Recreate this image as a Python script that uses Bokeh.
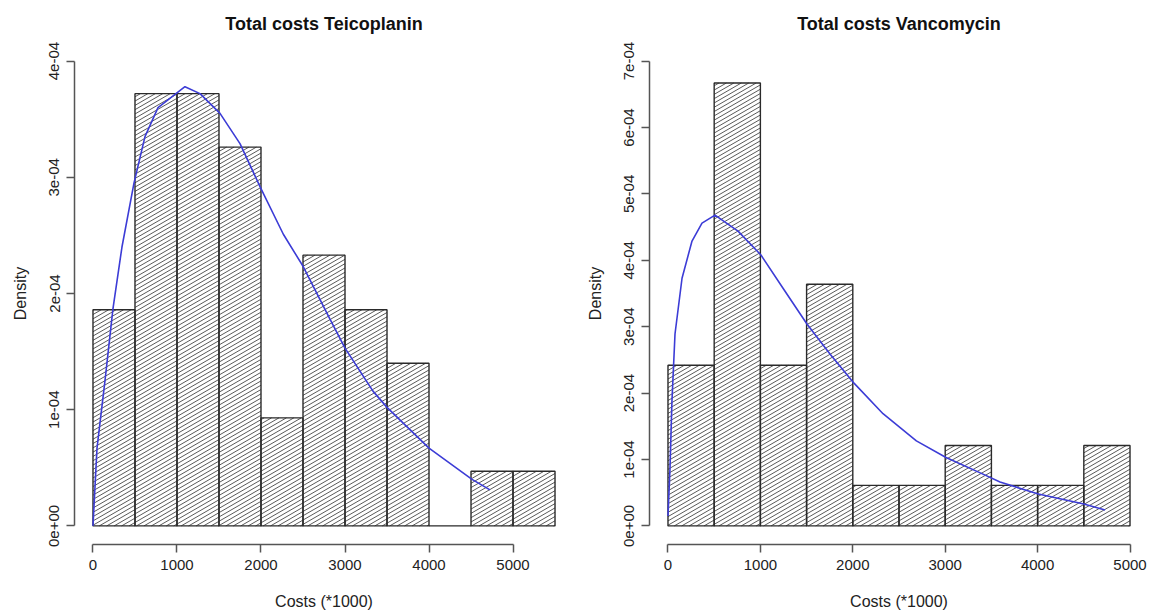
import math
from bokeh.plotting import figure
from bokeh.layouts import row
from bokeh.models import FixedTicker, Range1d, CustomJSTickFormatter, ColumnDataSource
from bokeh.embed import file_html
from bokeh.resources import INLINE

# ---------------- data ----------------
teico_breaks = [0, 500, 1000, 1500, 2000, 2500, 3000, 3500, 4000, 4500, 5000, 5500]
teico_density = [1.86e-4, 3.72e-4, 3.72e-4, 3.26e-4, 0.93e-4, 2.33e-4, 1.86e-4,
                 1.40e-4, 0.0, 0.47e-4, 0.47e-4]
teico_curve_x = [0, 48, 143, 238, 345, 488, 619, 774, 1095, 1274, 1512, 1750, 1988,
                 2266, 2504, 2821, 3000, 3333, 3500, 4000, 4512, 4726]
teico_curve_y = [0.0, 0.67e-4, 1.25e-4, 1.87e-4, 2.40e-4, 2.95e-4, 3.35e-4, 3.60e-4,
                 3.78e-4, 3.72e-4, 3.55e-4, 3.29e-4, 2.92e-4, 2.51e-4, 2.23e-4, 1.78e-4,
                 1.53e-4, 1.16e-4, 1.02e-4, 0.67e-4, 0.40e-4, 0.31e-4]

vanco_breaks = [0, 500, 1000, 1500, 2000, 2500, 3000, 3500, 4000, 4500, 5000]
vanco_density = [2.42e-4, 6.67e-4, 2.42e-4, 3.64e-4, 0.61e-4, 0.61e-4, 1.21e-4,
                 0.61e-4, 0.61e-4, 1.21e-4]
vanco_curve_x = [0, 22, 43, 76, 152, 260, 368, 509, 758, 1006, 1245, 1504, 1753, 2013,
                 2327, 2688, 3009, 3409, 3593, 4008, 4500, 4730]
vanco_curve_y = [0.15e-4, 0.87e-4, 1.88e-4, 2.89e-4, 3.73e-4, 4.29e-4, 4.56e-4, 4.68e-4,
                 4.44e-4, 4.08e-4, 3.58e-4, 3.04e-4, 2.59e-4, 2.15e-4, 1.69e-4, 1.28e-4,
                 1.03e-4, 0.78e-4, 0.66e-4, 0.48e-4, 0.33e-4, 0.24e-4]

x_ticks = [0, 1000, 2000, 3000, 4000, 5000]
x_tick_labels = ["0", "1000", "2000", "3000", "4000", "5000"]
teico_y_ticks = [0, 1e-4, 2e-4, 3e-4, 4e-4]
teico_y_labels = ["0e+00", "1e-04", "2e-04", "3e-04", "4e-04"]
vanco_y_ticks = [0, 1e-4, 2e-4, 3e-4, 4e-4, 5e-4, 6e-4, 7e-4]
vanco_y_labels = ["0e+00", "1e-04", "2e-04", "3e-04", "4e-04", "5e-04", "6e-04", "7e-04"]

titles = ["Total costs Teicoplanin", "Total costs Vancomycin"]
x_label = "Costs (*1000)"
y_label = "Density"

FONT = "Liberation Sans"
FRAME_H = 502
FMT_CODE = """
for (let i = 0; i < tvals.length; i++) {
  if (Math.abs(tick - tvals[i]) < 1e-12) { return tlabels[i]; }
}
return "";
"""

# R-style shading: parallel lines at about 30 degrees on screen
SHADE_ANGLE = 30.0
SHADE_GAP = 4.3  # vertical gap between shading lines, screen pixels


def shading(breaks, dens, xr, yr, fw, fh):
    """Clip a family of slanted lines to each histogram bar (computed in screen space)."""
    sx = fw / (xr[1] - xr[0])
    sy = fh / (yr[1] - yr[0])
    m = math.tan(math.radians(SHADE_ANGLE))
    x0s, y0s, x1s, y1s = [], [], [], []
    for a, b, h in zip(breaks[:-1], breaks[1:], dens):
        if h <= 0:
            continue
        px0, px1 = (a - xr[0]) * sx, (b - xr[0]) * sx
        py0, py1 = (0 - yr[0]) * sy, (h - yr[0]) * sy
        kmin = math.ceil((py0 - m * px1) / SHADE_GAP)
        kmax = math.floor((py1 - m * px0) / SHADE_GAP)
        for k in range(kmin, kmax + 1):
            c = k * SHADE_GAP
            xa = max(px0, (py0 - c) / m)
            xb = min(px1, (py1 - c) / m)
            if xb - xa <= 0.05:
                continue
            x0s.append(xr[0] + xa / sx)
            x1s.append(xr[0] + xb / sx)
            y0s.append(yr[0] + (m * xa + c) / sy)
            y1s.append(yr[0] + (m * xb + c) / sy)
    return dict(x0=x0s, y0=y0s, x1=x1s, y1=y1s)


def panel(title, breaks, dens, cx, cy, xr, yr, yticks, ylabels, fw, left_border, right_border):
    p = figure(frame_width=fw, frame_height=FRAME_H,
               x_range=Range1d(*xr), y_range=Range1d(*yr),
               output_backend="svg", toolbar_location=None,
               min_border_left=left_border, min_border_right=right_border,
               min_border_top=42, min_border_bottom=66, title=title)
    p.outline_line_color = None
    p.grid.visible = False
    p.background_fill_color = "white"
    p.border_fill_color = "white"

    p.title.align = "center"
    p.title.text_font = FONT
    p.title.text_font_size = "18px"
    p.title.text_font_style = "bold"
    p.title.text_color = "#111111"
    p.title.standoff = 17

    src = ColumnDataSource(dict(left=breaks[:-1], right=breaks[1:],
                                top=dens, bottom=[0] * len(dens)))
    p.quad(left="left", right="right", top="top", bottom="bottom", source=src,
           fill_color="white", line_color=None)
    p.segment(x0="x0", y0="y0", x1="x1", y1="y1",
              source=ColumnDataSource(shading(breaks, dens, xr, yr, fw, FRAME_H)),
              line_color="#5a5a5a", line_width=1.0)
    p.quad(left="left", right="right", top="top", bottom="bottom", source=src,
           fill_color=None, line_color="#2a2a2a", line_width=1.4)
    p.line(cx, cy, line_color="#3c3cd6", line_width=1.6)

    for ax in (p.xaxis[0], p.yaxis[0]):
        ax.axis_line_color = "#555555"
        ax.axis_line_width = 1.5
        ax.major_tick_line_color = "#555555"
        ax.major_tick_line_width = 1.5
        ax.major_tick_out = 8
        ax.major_tick_in = 0
        ax.minor_tick_out = 0
        ax.minor_tick_in = 0
        ax.major_label_text_font = FONT
        ax.major_label_text_font_size = "15px"
        ax.major_label_text_color = "#222222"
        ax.axis_label_text_font = FONT
        ax.axis_label_text_font_size = "16px"
        ax.axis_label_text_font_style = "normal"
        ax.axis_label_text_color = "#222222"
        ax.major_label_standoff = 7

    xa = p.xaxis[0]
    xa.ticker = FixedTicker(ticks=x_ticks, minor_ticks=[])
    xa.formatter = CustomJSTickFormatter(args=dict(tvals=x_ticks, tlabels=x_tick_labels), code=FMT_CODE)
    xa.bounds = (x_ticks[0], x_ticks[-1])
    xa.axis_label = x_label
    xa.axis_label_standoff = 20

    ya = p.yaxis[0]
    ya.ticker = FixedTicker(ticks=yticks, minor_ticks=[])
    ya.formatter = CustomJSTickFormatter(args=dict(tvals=yticks, tlabels=ylabels), code=FMT_CODE)
    ya.bounds = (yticks[0], yticks[-1])
    ya.major_label_orientation = "vertical"
    ya.axis_label = y_label
    ya.axis_label_standoff = 18
    return p


p1 = panel(titles[0], teico_breaks, teico_density, teico_curve_x, teico_curve_y,
           (-220, 5720), (-0.16e-4, 4.16e-4), teico_y_ticks, teico_y_labels, 499, 74, 10)
p2 = panel(titles[1], vanco_breaks, vanco_density, vanco_curve_x, vanco_curve_y,
           (-200, 5200), (-0.28e-4, 7.28e-4), vanco_y_ticks, vanco_y_labels, 499, 66, 3)

layout = row(p1, p2)
open("out.html", "w").write(file_html(layout, INLINE))
